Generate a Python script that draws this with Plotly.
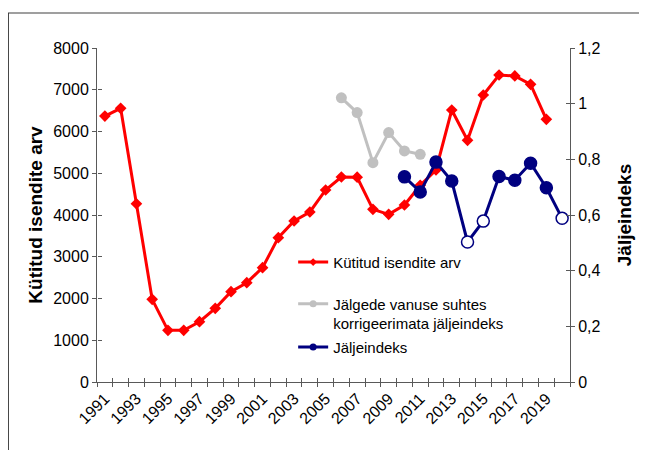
import plotly.graph_objects as go

years = list(range(1991, 2021))

harvest_years = list(range(1991, 2020))
harvest = [6370, 6555, 4270, 1980, 1238, 1238, 1444, 1765, 2163, 2379,
           2738, 3457, 3856, 4072, 4599, 4910, 4905, 4136, 4016, 4240,
           4711, 5078, 6515, 5789, 6874, 7353, 7330, 7130, 6292]

raw_years = list(range(2006, 2012))
raw_index = [1.021, 0.968, 0.788, 0.896, 0.830, 0.818]

idx_years = list(range(2010, 2021))
idx_values = [0.737, 0.683, 0.790, 0.722, 0.503, 0.578, 0.738, 0.725, 0.786, 0.698, 0.588]
idx_open = [False, False, False, False, True, True, False, False, False, False, True]

tick_years = list(range(1991, 2020, 2))
tick_text = [str(y) for y in tick_years]

NAME_RED = "Kütitud isendite arv"
NAME_GRAY = "Jälgede vanuse suhtes<br>korrigeerimata jäljeindeks"
NAME_NAVY = "Jäljeindeks"

RED, GRAY, NAVY = "#FF0000", "#C0C0C0", "#000080"
FONT = "Liberation Sans, Arial, sans-serif"
AX = "#595959"

fig = go.Figure()

fig.add_trace(go.Scatter(
    x=harvest_years, y=harvest, name=NAME_RED, mode="lines+markers",
    line=dict(color=RED, width=3),
    marker=dict(symbol="diamond", size=9, color=RED),
    xaxis="x", yaxis="y", showlegend=False))

fig.add_trace(go.Scatter(
    x=raw_years, y=raw_index, name=NAME_GRAY, mode="lines+markers",
    line=dict(color=GRAY, width=3),
    marker=dict(symbol="circle", size=11, color=GRAY),
    xaxis="x", yaxis="y2", showlegend=False))

fig.add_trace(go.Scatter(
    x=idx_years, y=idx_values, name=NAME_NAVY, mode="lines+markers",
    line=dict(color=NAVY, width=3),
    marker=dict(symbol="circle", size=12,
                color=["#FFFFFF" if o else NAVY for o in idx_open],
                line=dict(color=NAVY, width=1.5)),
    xaxis="x", yaxis="y2", showlegend=False))

# legend-only entries (smaller legend symbols, as in the original)
fig.add_trace(go.Scatter(x=[None], y=[None], name=NAME_RED, mode="lines+markers",
                         line=dict(color=RED, width=3),
                         marker=dict(symbol="diamond", size=6, color=RED),
                         legend="legend", showlegend=True, hoverinfo="skip"))
fig.add_trace(go.Scatter(x=[None], y=[None], name=NAME_GRAY, mode="lines+markers",
                         line=dict(color=GRAY, width=3),
                         marker=dict(symbol="circle", size=7, color=GRAY),
                         yaxis="y2", legend="legend2", showlegend=True, hoverinfo="skip"))
fig.add_trace(go.Scatter(x=[None], y=[None], name=NAME_NAVY, mode="lines+markers",
                         line=dict(color=NAVY, width=3),
                         marker=dict(symbol="circle", size=7, color=NAVY),
                         yaxis="y2", legend="legend3", showlegend=True, hoverinfo="skip"))

# dummy traces so that the overlay tick axes (cross ticks) are drawn
fig.add_trace(go.Scatter(x=[], y=[], xaxis="x2", yaxis="y3", showlegend=False, hoverinfo="skip"))
fig.add_trace(go.Scatter(x=[], y=[], xaxis="x3", yaxis="y4", showlegend=False, hoverinfo="skip"))

xr = [1990.5, 2020.5]
tickfont = dict(family=FONT, size=16, color="#000000")

fig.update_layout(
    width=647, height=450, autosize=False, showlegend=True,
    margin=dict(l=89, r=85, t=40, b=76),
    paper_bgcolor="white", plot_bgcolor="white",
    separators=", ",
    font=dict(family=FONT, size=16, color="#000000"),
    xaxis=dict(range=xr, tickmode="array", tickvals=tick_years, ticktext=tick_text,
               tickangle=-45, ticks="", showgrid=False, zeroline=False,
               showline=True, linecolor=AX, linewidth=1, tickfont=tickfont),
    xaxis2=dict(range=xr, overlaying="x", anchor="free", position=0, side="bottom",
                tickmode="linear", tick0=1990.5, dtick=1, ticks="outside", ticklen=4,
                tickcolor=AX, showticklabels=False, showgrid=False, zeroline=False,
                showline=False),
    xaxis3=dict(range=xr, overlaying="x", anchor="free", position=0, side="bottom",
                tickmode="linear", tick0=1990.5, dtick=1, ticks="inside", ticklen=4,
                tickcolor=AX, showticklabels=False, showgrid=False, zeroline=False,
                showline=False),
    yaxis=dict(range=[0, 8000], tickmode="linear", tick0=0, dtick=1000,
               ticks="outside", ticklen=4, tickcolor=AX, showgrid=False, zeroline=False,
               showline=True, linecolor=AX, linewidth=1, tickfont=tickfont,
               title=dict(text="<b>Kütitud isendite arv</b>", font=dict(size=19), standoff=5)),
    yaxis2=dict(range=[0, 1.2], tickmode="linear", tick0=0, dtick=0.2, overlaying="y",
                side="right", anchor="x",
                ticks="outside", ticklen=4, tickcolor=AX, showgrid=False, zeroline=False,
                showline=True, linecolor=AX, linewidth=1, tickfont=tickfont,
                title=dict(text="<b>Jäljeindeks</b>", font=dict(size=19), standoff=18)),
    yaxis3=dict(range=[0, 8000], tickmode="linear", tick0=0, dtick=1000, overlaying="y",
                side="left", anchor="free", position=0,
                ticks="inside", ticklen=4, tickcolor=AX, showticklabels=False,
                showgrid=False, zeroline=False, showline=False),
    yaxis4=dict(range=[0, 1.2], tickmode="linear", tick0=0, dtick=0.2, overlaying="y",
                side="right", anchor="free", position=1,
                ticks="inside", ticklen=4, tickcolor=AX, showticklabels=False,
                showgrid=False, zeroline=False, showline=False),
    legend=dict(x=0.4147, y=0.3584, xanchor="left", yanchor="middle",
                bgcolor="rgba(0,0,0,0)", font=dict(size=15), itemwidth=30),
    legend2=dict(x=0.4147, y=0.2054, xanchor="left", yanchor="middle", valign="top",
                 bgcolor="rgba(0,0,0,0)", font=dict(size=15), itemwidth=30),
    legend3=dict(x=0.4147, y=0.1039, xanchor="left", yanchor="middle",
                 bgcolor="rgba(0,0,0,0)", font=dict(size=15), itemwidth=30),
    shapes=[
        dict(type="rect", xref="paper", yref="paper", x0=-0.1874, y0=-0.4, x1=1.3, y1=1.1048,
             line=dict(color="#404040", width=1.2), fillcolor="rgba(0,0,0,0)", layer="below"),
    ],
)

fig.write_html("out.html")
